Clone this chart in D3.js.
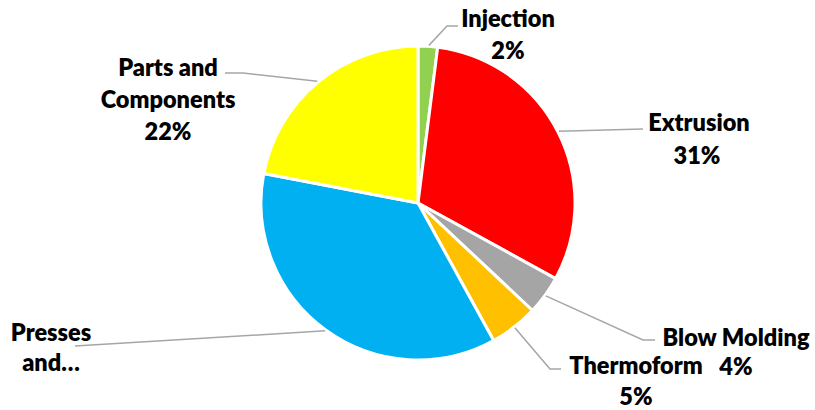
<!DOCTYPE html>
<html>
<head>
<meta charset="utf-8">
<script src="https://cdn.jsdelivr.net/npm/d3@7"></script>
<style>
  html, body { margin: 0; padding: 0; background: #fff; }
  svg { display: block; }
  text { font-family: Lato, "Open Sans", sans-serif; font-weight: 800; font-size: 23.5px; fill: #000; }
</style>
</head>
<body>
<svg id="chart" width="815" height="410"></svg>
<script>
// Market share by segment
const categories = ["Injection", "Extrusion", "Blow Molding", "Thermoform", "Presses and…", "Parts and Components"];
const shares = [2, 31, 4, 5, 36, 22];
const colors = ["#92D050", "#FF0000", "#A5A5A5", "#FFC000", "#00B0F0", "#FFFF00"];

// label text lines (name wrapped as displayed)
const labelLines = [
  ["Injection"],
  ["Extrusion"],
  ["Blow Molding"],
  ["Thermoform"],
  ["Presses", "and…"],
  ["Parts and", "Components"]
];

const svg = d3.select("#chart");
const cx = 418, cy = 203, radius = 157;

const pie = d3.pie().sort(null).value(d => d.value);
const arc = d3.arc().innerRadius(0).outerRadius(radius);

const data = categories.map((c, i) => ({ name: c, value: shares[i], color: colors[i], lines: labelLines[i] }));
const arcs = pie(data);

const g = svg.append("g").attr("transform", `translate(${cx},${cy})`);

g.selectAll("path.slice")
  .data(arcs)
  .join("path")
  .attr("class", "slice")
  .attr("d", arc)
  .attr("fill", d => d.data.color)
  .attr("stroke", "#fff")
  .attr("stroke-width", 3)
  .attr("stroke-linejoin", "round");

// label placement: text anchor point, leader elbow and end
const labelLayout = [
  { x: 508, y: 27, lineH: 32, pctCenter: 508, elbow: [447, 26], end: [458, 26], edge: 0.55 },
  { x: 699, y: 131, lineH: 33, pctCenter: 697, elbow: null, end: [643, 129], edge: 0.5 },
  { x: 736, y: 346, lineH: 29, pctCenter: 736, elbow: [643, 340], end: [655, 340], edge: 0.5 },
  { x: 636, y: 374, lineH: 31, pctCenter: 636, elbow: [550, 369], end: [561, 369], edge: 0.5 },
  { x: 51, y: 341, lineH: 30, pctCenter: 51, elbow: null, end: [75, 346], edge: 0.5 },
  { x: 168, y: 76, lineH: 32, pctCenter: 168, elbow: [243, 73], end: [225, 73], edge: 0.5 }
];

const lineGen = d3.line();
arcs.forEach((a, i) => {
  const L = labelLayout[i];
  const ang = a.startAngle + (a.endAngle - a.startAngle) * L.edge;
  const sx = cx + Math.sin(ang) * (radius + 1);
  const sy = cy - Math.cos(ang) * (radius + 1);
  const pts = [[sx, sy]];
  if (L.elbow) pts.push(L.elbow);
  pts.push(L.end);
  svg.append("path")
    .attr("d", lineGen(pts))
    .attr("fill", "none")
    .attr("stroke", "#A6A6A6")
    .attr("stroke-width", 1.5);
});

arcs.forEach((a, i) => {
  const L = labelLayout[i];
  const t = svg.append("text").attr("text-anchor", "middle");
  a.data.lines.forEach((ln, k) => {
    t.append("tspan").attr("x", L.x).attr("y", L.y + k * L.lineH).text(ln);
  });
  const n = a.data.lines.length;
  if (i !== 4) {
    t.append("tspan")
      .attr("x", L.pctCenter)
      .attr("y", L.y + n * L.lineH)
      .text(d3.format("d")(a.data.value) + "%");
  }
});
</script>
</body>
</html>
